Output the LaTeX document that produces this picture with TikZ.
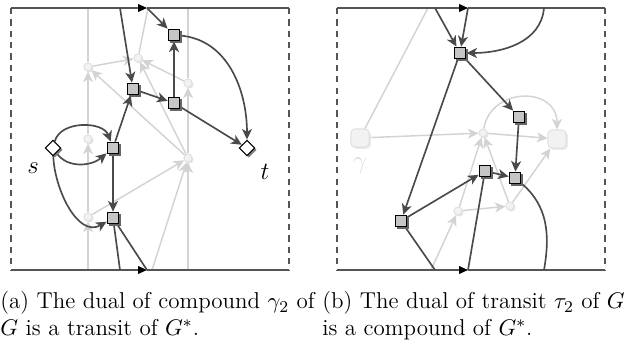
\documentclass[tikz,border=0pt]{standalone}
\usepackage{amsmath}
\usepackage{xcolor}
\usepackage{tikz}
\usetikzlibrary{arrows.meta,shapes.geometric,shadows,backgrounds}
\definecolor{ink}{HTML}{4A4A4A}
\definecolor{frame}{HTML}{555555}
\definecolor{faint}{HTML}{D3D3D3}
\definecolor{sqfill}{HTML}{C6C6C6}
\definecolor{dotfill}{HTML}{F2F2F2}
\definecolor{dotline}{HTML}{DDDDDD}
\tikzset{
  sq/.style    = {rectangle, draw=black, fill=sqfill, minimum size=0.2cm, inner sep=0pt, line width=0.5pt,
                  drop shadow={shadow xshift=0.35mm, shadow yshift=-0.35mm, fill=black!60, opacity=1}},
  sdia/.style  = {diamond, draw=black, fill=white, minimum size=0.27cm, inner sep=0pt, line width=0.5pt,
                  drop shadow={shadow xshift=0.3mm, shadow yshift=-0.3mm, fill=black!50, opacity=1}},
  gdot/.style  = {circle, draw=dotline, fill=dotfill, minimum size=0.14cm, inner sep=0pt, line width=0.4pt,
                  drop shadow={shadow xshift=0.25mm, shadow yshift=-0.25mm, fill=black!10, opacity=1}},
  ghost/.style = {rectangle, rounded corners=2pt, draw=dotline, fill=dotfill, minimum size=0.31cm, inner sep=0pt,
                  line width=0.4pt, drop shadow={shadow xshift=0.3mm, shadow yshift=-0.3mm, fill=black!8, opacity=1}},
  ar/.style    = {-{Stealth[length=1.8mm,width=1.7mm,inset=0.5mm]}, line width=0.8pt, draw=ink},
  ln/.style    = {line width=0.8pt, draw=ink},
  lar/.style   = {-{Stealth[length=1.8mm,width=1.7mm,inset=0.5mm]}, line width=0.7pt, draw=faint},
  lln/.style   = {line width=0.7pt, draw=faint},
  rim/.style   = {line width=0.6pt, draw=frame},
  side/.style  = {rim, dash pattern=on 3pt off 2.5pt},
  flow/.style  = {-{Triangle[length=1.5mm,width=1.3mm,color=black]}},
  lab/.style   = {font=\large, inner sep=0pt},
  capt/.style  = {anchor=north west, align=left, inner sep=0pt, font=\fontsize{11.1}{13.1}\selectfont},
}
\begin{document}
\begin{tikzpicture}[x=0.017cm, y=-0.017cm]
  \useasboundingbox (0,0) rectangle (625,343);

  % (a) left panel
  \coordinate (aNW) at (11,8);   \coordinate (aNE) at (289,8);
  \coordinate (aSW) at (11,270); \coordinate (aSE) at (289,270);
  \coordinate (aTa) at (147,8);  \coordinate (aBa) at (147,270);
  \coordinate (aT1) at (120,8);  \coordinate (aB1) at (120,270);
  \coordinate (aTg) at (148,8);  \coordinate (aBg) at (152,270);
  \coordinate (aT88) at (88,8);  \coordinate (aB88) at (88,270);
  \coordinate (aT188) at (188,8); \coordinate (aB188) at (188,270);

  \node[gdot] (g1) at (88,67) {};
  \node[gdot] (g2) at (138,58) {};
  \node[gdot] (g3) at (188,83) {};
  \node[gdot] (g4) at (88,139) {};
  \node[gdot] (g5) at (188,158) {};
  \node[gdot] (g6) at (88,217) {};

  \node[sq] (A) at (133,89) {};
  \node[sq] (B) at (174,35) {};
  \node[sq] (C) at (174,103) {};
  \node[sq] (D) at (113,148) {};
  \node[sq] (E) at (113,218) {};
  \node[sdia] (s) at (53,148) {};
  \node[sdia] (t) at (247,148) {};
  \node[lab] (slab) at (33,168) {$s$};
  \node[lab] (tlab) at (265,172) {$t$};

  % (b) right panel
  \coordinate (bNW) at (337,8);   \coordinate (bNE) at (605,8);
  \coordinate (bSW) at (337,270); \coordinate (bSE) at (605,270);
  \coordinate (bTa) at (468,8);   \coordinate (bBa) at (468,270);
  \coordinate (bT1) at (435,8);   \coordinate (bB1) at (435,270);
  \coordinate (bT2) at (544,8);   \coordinate (bB2) at (544,270);
  \coordinate (bTg) at (428,8);   \coordinate (bBg) at (431,270);

  \node[ghost] (gl) at (360,138) {};
  \node[ghost] (gr) at (557,139) {};
  \node[gdot] (c1) at (483,133) {};
  \node[gdot] (c2) at (458,211) {};
  \node[gdot] (c3) at (510,206) {};
  \node[lab, text=black!15] (glab) at (360,166) {$\gamma$};

  \node[sq] (P) at (460,53) {};
  \node[sq] (Q) at (519,117) {};
  \node[sq] (R) at (485,171) {};
  \node[sq] (S) at (515,178) {};
  \node[sq] (U) at (401,221) {};

  \begin{scope}[on background layer]
    % faint primal edges
    \draw[lar] (aB88) -- (g6);
    \draw[lar] (g6) -- (g4);
    \draw[lar] (g4) -- (g1);
    \draw[lln] (g1) -- (aT88);
    \draw[lar] (aB188) -- (g5);
    \draw[lar] (g5) -- (g3);
    \draw[lln] (g3) -- (aT188);
    \draw[lar] (g1) -- (g2);
    \draw[lar] (g3) -- (g2);
    \draw[lar] (g5) -- (g2);
    \draw[lar] (g5) -- (g1);
    \draw[lar] (g6) -- (g5);
    \draw[lln] (g2) -- (aTg);
    \draw[lar] (aBg) -- (g5);

    \draw[lln] (gl) -- (bTg);
    \draw[lar] (gl) -- (c1);
    \draw[lar] (c1) -- (gr);
    \draw[lar] (c1) to[out=80,in=90,looseness=1.5] (gr);
    \draw[lar] (c2) -- (c1);
    \draw[lar] (c3) -- (c1);
    \draw[lar] (c2) -- (c3);
    \draw[lar] (c3) -- (gr);
    \draw[lar] (bBg) -- (c2);

    % frames
    \draw[rim, flow] (aNW) -- (aTa); \draw[rim] (aTa) -- (aNE);
    \draw[rim, flow] (aSW) -- (aBa); \draw[rim] (aBa) -- (aSE);
    \draw[side] (aNW) -- (aSW); \draw[side] (aNE) -- (aSE);
    \draw[rim, flow] (bNW) -- (bTa); \draw[rim] (bTa) -- (bNE);
    \draw[rim, flow] (bSW) -- (bBa); \draw[rim] (bBa) -- (bSE);
    \draw[side] (bNW) -- (bSW); \draw[side] (bNE) -- (bSE);

    % dual edges
    \draw[ar] (aT1) -- (A);
    \draw[ar] (aTa) -- (B);
    \draw[ar] (A) -- (C);
    \draw[ar] (C) -- (B);
    \draw[ar] (C) -- (t);
    \draw[ar] (B) to[out=-5,in=90] (t);
    \draw[ar] (D) -- (A);
    \draw[ar] (D) -- (E);
    \draw[ar] (s) to[out=75,in=110] (D);
    \draw[ar] (s) to[out=-55,in=-140] (D);
    \draw[ar] (s) to[out=-88,in=-150] (E);
    \draw[ln] (E) -- (aB1);
    \draw[ln] (E) -- (aBa);

    \draw[ar] (bT1) -- (P);
    \draw[ar] (bTa) -- (P);
    \draw[ar] (bT2) to[out=-95,in=0] (P);
    \draw[ar] (P) -- (Q);
    \draw[ar] (P) -- (U);
    \draw[ar] (Q) -- (S);
    \draw[ar] (U) -- (R);
    \draw[ar] (R) -- (S);
    \draw[ln] (U) -- (bB1);
    \draw[ln] (R) -- (bBa);
    \draw[ln] (S) to[out=-40,in=80] (bB2);
  \end{scope}

  \node[capt] (capa) at (0,291) {(a) The dual of compound $\gamma_2$ of\\$G$ is a transit of $G^*$.};
  \node[capt] (capb) at (322,291) {(b) The dual of transit $\tau_2$ of $G$\\is a compound of $G^*$.};
\end{tikzpicture}
\end{document}
